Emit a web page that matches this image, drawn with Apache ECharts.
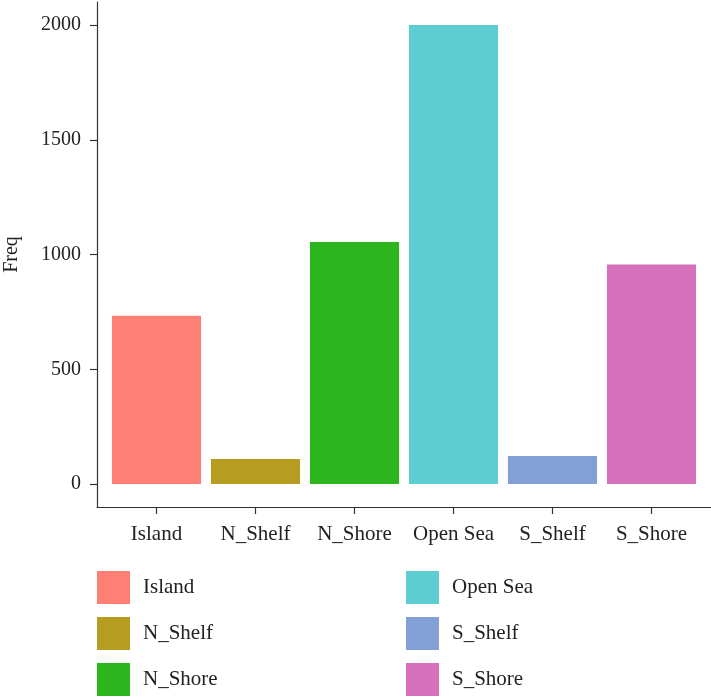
<!DOCTYPE html>
<html>
<head>
<meta charset="utf-8">
<script src="https://cdn.jsdelivr.net/npm/echarts@6/dist/echarts.min.js"></script>
<style>html,body{margin:0;padding:0;background:#fff}#c{width:711px;height:697px}</style>
</head>
<body>
<div id="c"></div>
<script>
var categories = ['Island', 'N_Shelf', 'N_Shore', 'Open Sea', 'S_Shelf', 'S_Shore'];
var values = [733, 109, 1055, 2001, 122, 957];
var colors = ['#FE7F74', '#B79C22', '#2CB51C', '#5DCDD1', '#82A0D5', '#D670BA'];
var yTicks = [0, 500, 1000, 1500, 2000];

var FONT = 'Liberation Serif';
var TXT = '#222';
var AX = '#333';
var yMin = -100.05, yMax = 2101.05;

var series = categories.map(function (c, i) {
  return {
    name: c,
    type: 'bar',
    xAxisIndex: 0,
    yAxisIndex: 0,
    stack: 'all',
    barWidth: '90%',
    itemStyle: { color: colors[i] },
    data: categories.map(function (_, j) { return j === i ? values[i] : '-'; })
  };
});

var chart = echarts.init(document.getElementById('c'), null, { renderer: 'canvas' });
chart.setOption({
  animation: false,
  backgroundColor: '#fff',
  grid: [
    { left: 107, right: 10, top: 2, bottom: 190, containLabel: false, outerBoundsMode: 'none' },
    { left: 97, right: 0, top: 2, bottom: 190, containLabel: false, outerBoundsMode: 'none' }
  ],
  xAxis: [
    {
      type: 'category', gridIndex: 0, data: categories,
      axisLine: { show: false, onZero: false },
      axisTick: { show: true, alignWithLabel: true, length: 7, lineStyle: { color: AX, width: 1.2 } },
      axisLabel: { interval: 0, margin: 17, fontFamily: FONT, fontSize: 21, color: TXT },
      splitLine: { show: false }
    },
    {
      type: 'value', gridIndex: 1, min: 0, max: 1,
      axisLine: { show: true, onZero: false, lineStyle: { color: AX, width: 1.2 } },
      axisTick: { show: false }, axisLabel: { show: false }, splitLine: { show: false }
    }
  ],
  yAxis: [
    {
      type: 'value', gridIndex: 0, min: yMin, max: yMax,
      axisLine: { show: false, onZero: false }, axisTick: { show: false }, axisLabel: { show: false }, splitLine: { show: false }
    },
    {
      type: 'value', gridIndex: 1, min: yMin, max: yMax,
      name: 'Freq', nameLocation: 'middle', nameRotate: 90, nameGap: 75,
      nameTextStyle: { fontFamily: FONT, fontSize: 20, color: TXT },
      axisLine: { show: true, onZero: false, lineStyle: { color: AX, width: 1.2 } },
      axisTick: { show: true, length: 7, customValues: yTicks, lineStyle: { color: AX, width: 1.2 } },
      axisLabel: { margin: 16, customValues: yTicks, formatter: function (v) { return String(v); }, fontFamily: FONT, fontSize: 20, color: TXT },
      splitLine: { show: false }
    }
  ],
  legend: [
    {
      data: categories.slice(0, 3), orient: 'vertical', left: 97, top: 571, padding: 0,
      icon: 'rect', itemWidth: 33, itemHeight: 33, itemGap: 13,
      textStyle: { fontFamily: FONT, fontSize: 21, color: TXT, padding: [0, 0, 0, 8] }
    },
    {
      data: categories.slice(3), orient: 'vertical', left: 406, top: 571, padding: 0,
      icon: 'rect', itemWidth: 33, itemHeight: 33, itemGap: 13,
      textStyle: { fontFamily: FONT, fontSize: 21, color: TXT, padding: [0, 0, 0, 8] }
    }
  ],
  series: series
});
</script>
</body>
</html>
